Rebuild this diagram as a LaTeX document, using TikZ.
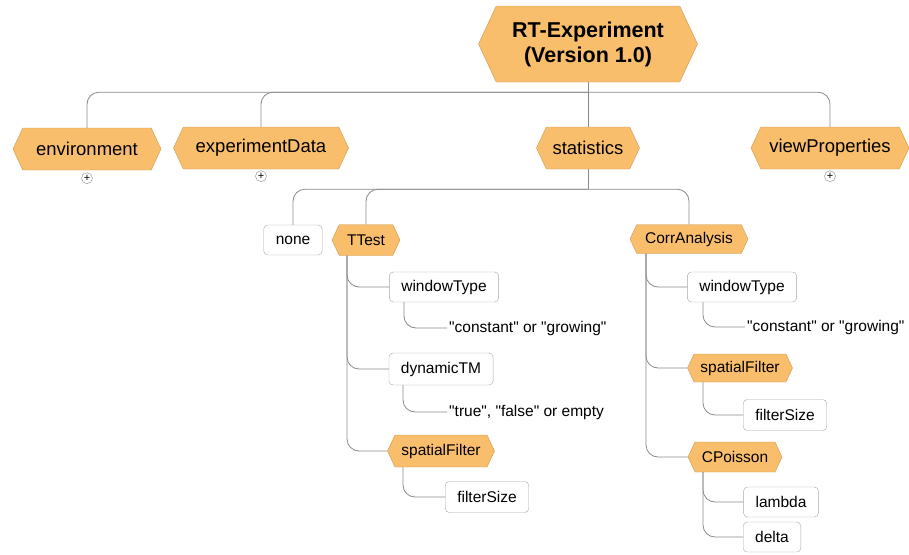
\documentclass[tikz,border=0pt]{standalone}
\usepackage{fontspec}
\setmainfont{Liberation Sans}[Ligatures=TeXOff]
\usetikzlibrary{shapes.symbols,positioning}

\definecolor{hexfill}{HTML}{F9BE6C}
\definecolor{hexline}{HTML}{C99A50}
\definecolor{linkgray}{HTML}{8A8A8A}
\definecolor{boxgray}{HTML}{A8A8A8}

\begin{document}
\begin{tikzpicture}[
  x=1pt, y=-1pt,
  hexbox/.style={signal, signal to=west and east, signal pointer angle=130, draw=hexline, fill=hexfill,
    inner xsep=4pt, inner ysep=0pt, font=\fontsize{15.5}{18}\selectfont},
  topbox/.style={hexbox, minimum height=42pt, font=\fontsize{18.5}{22}\selectfont},
  leafbox/.style={draw=boxgray, fill=white, rounded corners=4pt, inner xsep=12pt, inner ysep=0pt,
    minimum height=30pt, font=\fontsize{15.5}{18}\selectfont},
  valtext/.style={inner sep=2pt, anchor=west, font=\fontsize{15.5}{18}\selectfont},
  plusmark/.style={circle, draw=linkgray, fill=white, inner sep=0pt, minimum size=11pt, font=\fontsize{11}{11}\selectfont},
  link/.style={draw=linkgray, line width=0.8pt, rounded corners=12pt}
]
\useasboundingbox (0,0) rectangle (909,554);

% root and first level
\node[hexbox, minimum width=219pt, minimum height=76pt, align=center,
  font=\fontsize{21.5}{25}\selectfont\bfseries] (root) at (588,44) {RT-Experiment\\(Version 1.0)};
\node[topbox, minimum width=148pt] (env) at (87,149) {environment};
\node[topbox, minimum width=175pt] (expdata) at (261,148) {experimentData};
\node[topbox, minimum width=103pt] (stats) at (588,148) {statistics};
\node[topbox, minimum width=158pt] (viewprop) at (830,148) {viewProperties};
\node[plusmark] (envplus) at ([yshift=-8pt]env.south) {+};
\node[plusmark] (expplus) at ([yshift=-7pt]expdata.south) {+};
\node[plusmark] (viewplus) at ([yshift=-7pt]viewprop.south) {+};

% second level
\node[leafbox] (none) at (293,240) {none};
\node[hexbox, minimum width=68pt, minimum height=31pt] (ttest) at (366,240) {TTest};
\node[hexbox, minimum width=118pt, minimum height=29pt] (corr) at (689,239) {CorrAnalysis};

% TTest branch
\node[leafbox] (winA) at (444,287) {windowType};
\node[valtext] (winAval) at (447,328) {"constant" or "growing"};
\node[leafbox, minimum height=32pt] (dyn) at (441,369) {dynamicTM};
\node[valtext] (dynval) at (447,412) {"true", "false" or empty};
\node[hexbox, minimum width=107pt, minimum height=32pt] (spatA) at (441,451) {spatialFilter};
\node[leafbox, minimum height=31pt] (sizeA) at (487,497) {filterSize};

% CorrAnalysis branch
\node[leafbox] (winB) at (742,287) {windowType};
\node[valtext] (winBval) at (745,327) {"constant" or "growing"};
\node[hexbox, minimum width=105pt, minimum height=28pt] (spatB) at (740,368) {spatialFilter};
\node[leafbox, minimum height=31pt] (sizeB) at (785,415) {filterSize};
\node[hexbox, minimum width=94pt, minimum height=30pt] (cpois) at (735,457) {CPoisson};
\node[leafbox] (lambda) at (781,502) {lambda};
\node[leafbox] (delta) at (772,537) {delta};

% connectors
\coordinate (rootjoint) at ([yshift=-10pt]root.south);
\coordinate (statjoint) at ([yshift=-20pt]stats.south);
\draw[link] (root.south) -- (rootjoint);
\draw[link] (rootjoint) -| (env.north);
\draw[link] (rootjoint) -| (expdata.north);
\draw[link] (rootjoint) -| (viewprop.north);
\draw[link] (rootjoint) -- (stats.north);

\draw[link] (stats.south) -- (statjoint);
\draw[link] (statjoint) -| (none.north);
\draw[link] (statjoint) -| (ttest.north);
\draw[link] (statjoint) -| (corr.north);

\draw[link] ([xshift=-19pt]ttest.south) |- (winA.west);
\draw[link] ([xshift=-19pt]ttest.south) |- (dyn.west);
\draw[link] ([xshift=-19pt]ttest.south) |- (spatA.west);
\draw[link] ([xshift=-40pt]winA.south) |- (winAval.west);
\draw[link] ([xshift=-38pt]dyn.south) |- (dynval.west);
\draw[link] ([xshift=-38pt]spatA.south) |- (sizeA.west);

\draw[link] ([xshift=-43pt]corr.south) |- (winB.west);
\draw[link] ([xshift=-43pt]corr.south) |- (spatB.west);
\draw[link] ([xshift=-43pt]corr.south) |- (cpois.west);
\draw[link] ([xshift=-39pt]winB.south) |- (winBval.west);
\draw[link] ([xshift=-37pt]spatB.south) |- (sizeB.west);
\draw[link] ([xshift=-32pt]cpois.south) |- (lambda.west);
\draw[link] ([xshift=-32pt]cpois.south) |- (delta.west);
\end{tikzpicture}
\end{document}
